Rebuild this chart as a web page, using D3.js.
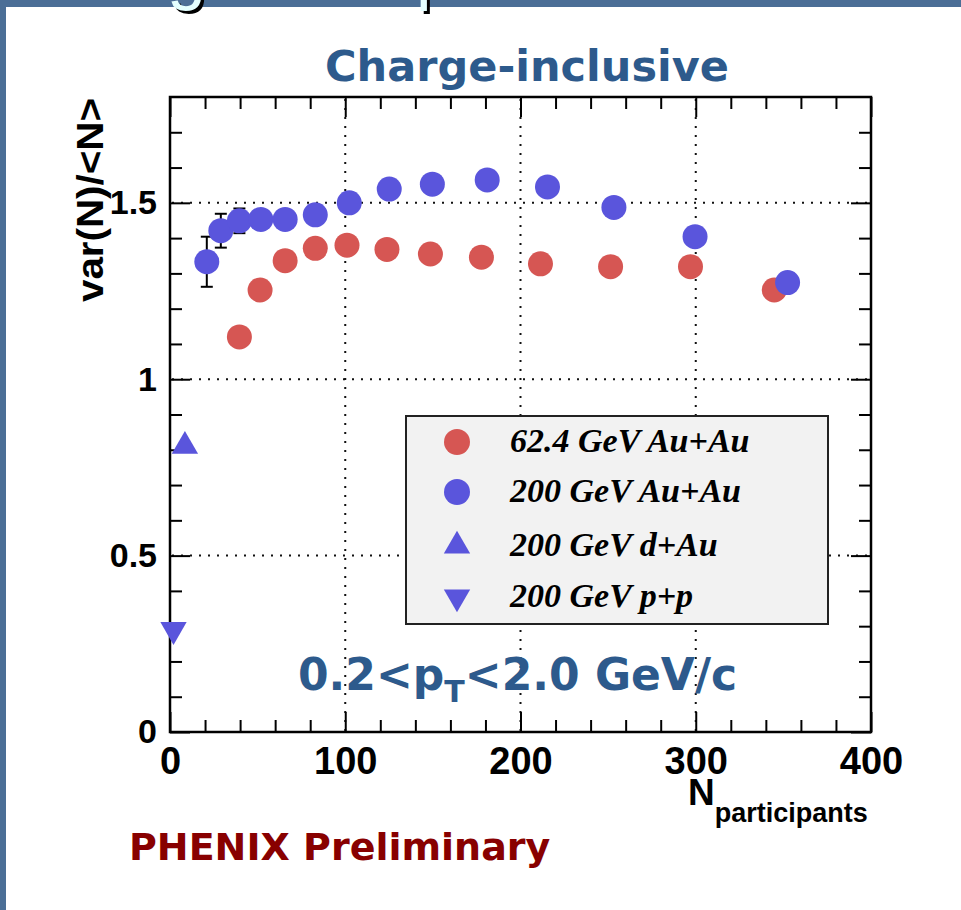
<!DOCTYPE html>
<html lang="en">
<head>
<meta charset="utf-8">
<title>Charge-inclusive</title>
<script src="https://cdn.jsdelivr.net/npm/d3@7"></script>
<style>
	body {
		margin: 0px;
		overflow: hidden;
		background: #fff;
	}
	text {
		font-family: "Liberation Sans", Arial, sans-serif;
	}
	.tick line {
		stroke: #000;
		stroke-width: 2;
	}
	.tick text {
		font-size: 38px;
		font-weight: bold;
		fill: #000;
	}
	.y-axis .tick text {
		font-size: 34px;
	}
	.grid {
		stroke: #111;
		stroke-width: 2;
		stroke-dasharray: 2,7;
	}
	.blue-label {
		font-family: "DejaVu Sans", sans-serif;
		font-weight: bold;
		fill: #2d5a8c;
	}
	.prelim {
		font-family: "DejaVu Sans", sans-serif;
		font-weight: bold;
		font-size: 38px;
		fill: #880000;
	}
	.legend text {
		font-family: "Liberation Serif", serif;
		font-style: italic;
		font-weight: bold;
		font-size: 34px;
		fill: #000;
	}
</style>
</head>
<body>
<script>
	// values
	const npart62 = [39.6, 51.4, 65.7, 82.9, 101, 123.8, 148.6, 177.7, 211.4, 251.4, 297, 344.8];
	const var62 = [1.12, 1.253, 1.336, 1.371, 1.38, 1.368, 1.355, 1.346, 1.327, 1.319, 1.319, 1.253];

	const npart200 = [21, 29, 39.6, 51.8, 65.7, 82.9, 102.3, 125.1, 149.7, 181, 215.4, 253.3, 299.6, 352.4];
	const var200 = [1.333, 1.421, 1.449, 1.453, 1.453, 1.466, 1.5, 1.539, 1.553, 1.565, 1.545, 1.487, 1.404, 1.274];
	const err200 = [0.071, 0.048, 0.035, 0.02, 0.02, 0.02, 0.02, 0.02, 0.02, 0.02, 0.02, 0.02, 0.02, 0.02];

	const npartDAu = [8.5];
	const varDAu = [0.81];
	const npartPP = [2];
	const varPP = [0.29];

	const xMajor = [0, 100, 200, 300, 400];
	const xMinor = [20, 40, 60, 80, 120, 140, 160, 180, 220, 240, 260, 280, 320, 340, 360, 380];
	const yMajor = [0, 0.5, 1, 1.5];
	const yMinor = [0.1, 0.2, 0.3, 0.4, 0.6, 0.7, 0.8, 0.9, 1.1, 1.2, 1.3, 1.4, 1.6, 1.7];
	const xGrid = [100, 200, 300];
	const yGrid = [0.5, 1, 1.5];

	const legendLabels = ["62.4 GeV Au+Au", "200 GeV Au+Au", "200 GeV d+Au", "200 GeV p+p"];

	const red = "#d65653";
	const blue = "#5a55dc";

	const width = 961, height = 910;
	const plotLeft = 170, plotRight = 871, plotTop = 97, plotBottom = 732;

	const svg = d3.select("body").append("svg")
		.attr("width", width)
		.attr("height", height);

	// slide background frame
	svg.append("rect").attr("width", width).attr("height", height).attr("fill", "#fff");
	svg.append("rect").attr("x", 0).attr("y", 0).attr("width", width).attr("height", 7).attr("fill", "#4b6e96");
	svg.append("rect").attr("x", 0).attr("y", 0).attr("width", 6).attr("height", height).attr("fill", "#4b6e96");

	// bottom bits of the slide heading that is cut off
	[["g", 167], ["p", 416]].forEach(function (t) {
		svg.append("text").attr("x", t[1] + 3).attr("y", -1)
			.attr("font-size", 70).attr("fill", "#000").text(t[0]);
		svg.append("text").attr("x", t[1]).attr("y", -4)
			.attr("font-size", 70).attr("fill", "#e4ffff").text(t[0]);
	});

	const xScale = d3.scaleLinear().domain([0, 400]).range([plotLeft, plotRight]);
	const yScale = d3.scaleLinear().domain([0, 1.8]).range([plotBottom, plotTop]);

	// dotted grid
	svg.selectAll(".gx").data(xGrid).enter().append("line")
		.attr("class", "grid")
		.attr("x1", d => xScale(d)).attr("x2", d => xScale(d))
		.attr("y1", plotTop + 2).attr("y2", plotBottom);
	svg.selectAll(".gy").data(yGrid).enter().append("line")
		.attr("class", "grid")
		.attr("x1", plotLeft + 2).attr("x2", plotRight)
		.attr("y1", d => yScale(d)).attr("y2", d => yScale(d));

	// axes on all four sides, ticks pointing inward
	function addAxis(axis, tx, ty, cls) {
		const g = svg.append("g").attr("class", cls || "")
			.attr("transform", `translate(${tx},${ty})`)
			.call(axis);
		g.selectAll(".domain").remove();
		return g;
	}

	addAxis(d3.axisBottom(xScale).tickValues(xMajor).tickSize(-20).tickPadding(15).tickFormat(d3.format("d")), 0, plotBottom, "x-axis");
	addAxis(d3.axisBottom(xScale).tickValues(xMinor).tickSize(-12).tickFormat(""), 0, plotBottom);
	addAxis(d3.axisTop(xScale).tickValues(xMajor).tickSize(-20).tickFormat(""), 0, plotTop);
	addAxis(d3.axisTop(xScale).tickValues(xMinor).tickSize(-12).tickFormat(""), 0, plotTop);

	addAxis(d3.axisLeft(yScale).tickValues(yMajor).tickSize(-20).tickPadding(13).tickFormat(d => d), plotLeft, 0, "y-axis");
	addAxis(d3.axisLeft(yScale).tickValues(yMinor).tickSize(-12).tickFormat(""), plotLeft, 0);
	addAxis(d3.axisRight(yScale).tickValues(yMajor).tickSize(-20).tickFormat(""), plotRight, 0);
	addAxis(d3.axisRight(yScale).tickValues(yMinor).tickSize(-12).tickFormat(""), plotRight, 0);

	svg.append("rect")
		.attr("x", plotLeft).attr("y", plotTop)
		.attr("width", plotRight - plotLeft).attr("height", plotBottom - plotTop)
		.attr("fill", "none").attr("stroke", "#000").attr("stroke-width", 2.5);

	// axis titles
	const xt = svg.append("text").attr("x", 688).attr("y", 805)
		.attr("font-size", 37).attr("font-weight", "bold").text("N");
	xt.append("tspan").attr("dy", 17).attr("font-size", 27).text("participants");

	svg.append("text")
		.attr("transform", "translate(103,302) rotate(-90)")
		.attr("font-size", 36).attr("font-weight", "bold")
		.attr("textLength", 204).attr("lengthAdjust", "spacingAndGlyphs")
		.text("var(N)/<N>");

	// error bars for 200 GeV Au+Au
	const eb = svg.append("g").attr("stroke", "#000").attr("stroke-width", 2);
	npart200.forEach(function (n, i) {
		const cx = xScale(n);
		const y1 = yScale(var200[i] - err200[i]);
		const y2 = yScale(var200[i] + err200[i]);
		eb.append("line").attr("x1", cx).attr("x2", cx).attr("y1", y1).attr("y2", y2);
		eb.append("line").attr("x1", cx - 6).attr("x2", cx + 6).attr("y1", y1).attr("y2", y1);
		eb.append("line").attr("x1", cx - 6).attr("x2", cx + 6).attr("y1", y2).attr("y2", y2);
	});

	// markers
	svg.selectAll(".red").data(npart62).enter().append("circle")
		.attr("cx", d => xScale(d))
		.attr("cy", (d, i) => yScale(var62[i]))
		.attr("r", 12.5)
		.attr("fill", red);

	svg.selectAll(".blue").data(npart200).enter().append("circle")
		.attr("cx", d => xScale(d))
		.attr("cy", (d, i) => yScale(var200[i]))
		.attr("r", 12.5)
		.attr("fill", blue);

	const tri = d3.symbol().type(d3.symbolTriangle).size(300);
	svg.selectAll(".dau").data(npartDAu).enter().append("path")
		.attr("d", tri)
		.attr("transform", (d, i) => `translate(${xScale(d)},${yScale(varDAu[i])})`)
		.attr("fill", blue);
	svg.selectAll(".pp").data(npartPP).enter().append("path")
		.attr("d", tri)
		.attr("transform", (d, i) => `translate(${xScale(d)},${yScale(varPP[i])}) rotate(180)`)
		.attr("fill", blue);

	// legend
	const legend = svg.append("g").attr("class", "legend");
	legend.append("rect")
		.attr("x", 406).attr("y", 416).attr("width", 422).attr("height", 208)
		.attr("fill", "#f2f2f2").attr("stroke", "#222").attr("stroke-width", 2);
	const rowY = [442, 492, 546, 597];
	legend.append("circle").attr("cx", 457).attr("cy", rowY[0]).attr("r", 13).attr("fill", red);
	legend.append("circle").attr("cx", 457).attr("cy", rowY[1]).attr("r", 13).attr("fill", blue);
	legend.append("path").attr("d", tri).attr("transform", `translate(457,${rowY[2]})`).attr("fill", blue);
	legend.append("path").attr("d", tri).attr("transform", `translate(457,${rowY[3]}) rotate(180)`).attr("fill", blue);
	legend.selectAll("text").data(legendLabels).enter().append("text")
		.attr("x", 510)
		.attr("y", (d, i) => rowY[i] + 10)
		.text(d => d);

	// annotations
	svg.append("text").attr("class", "blue-label")
		.attr("x", 527).attr("y", 81)
		.attr("text-anchor", "middle").attr("font-size", 43)
		.text("Charge-inclusive");

	const pt = svg.append("text").attr("class", "blue-label")
		.attr("x", 298).attr("y", 690).attr("font-size", 44);
	pt.append("tspan").text("0.2<p");
	pt.append("tspan").attr("dy", 12).attr("font-size", 30).text("T");
	pt.append("tspan").attr("dy", -12).text("<2.0 GeV/c");

	svg.append("text").attr("class", "prelim")
		.attr("x", 129).attr("y", 860)
		.text("PHENIX Preliminary");
</script>
</body>
</html>
